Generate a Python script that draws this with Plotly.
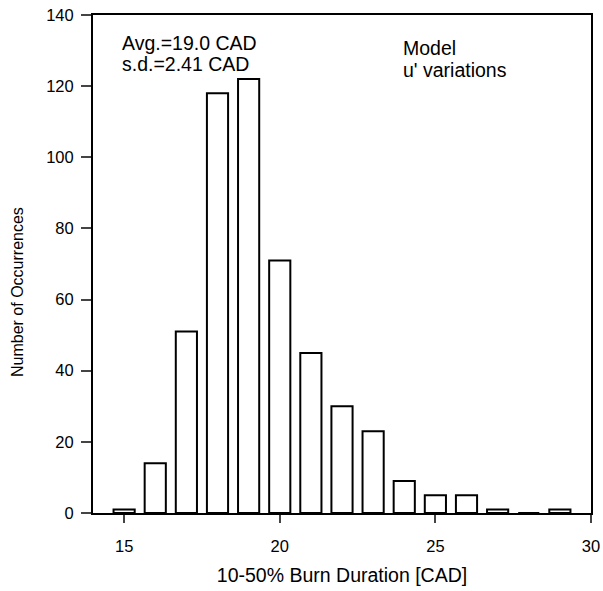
import plotly.graph_objects as go

durations = [15, 16, 17, 18, 19, 20, 21, 22, 23, 24, 25, 26, 27, 28, 29]
counts = [1, 14, 51, 118, 122, 71, 45, 30, 23, 9, 5, 5, 1, 0, 1]
x_ticks = [15, 20, 25, 30]
y_ticks = [0, 20, 40, 60, 80, 100, 120, 140]

font = "Liberation Sans, Arial, Helvetica, sans-serif"

fig = go.Figure(go.Bar(
    x=durations, y=counts, width=0.68,
    marker=dict(color="white", line=dict(color="black", width=2)),
))

fig.update_layout(
    width=603, height=591,
    margin=dict(l=93, r=12, t=15, b=78),
    plot_bgcolor="white", paper_bgcolor="white",
    showlegend=False,
    font=dict(family=font, size=16.5, color="black"),
    xaxis=dict(
        range=[14, 30], tickvals=x_ticks, ticks="outside", ticklen=8, tickwidth=2,
        ticklabelstandoff=9, automargin=False,
        showline=True, linecolor="black", linewidth=2, mirror=True,
        showgrid=False, zeroline=False,
        title=dict(text="10-50% Burn Duration [CAD]", font=dict(size=19.5), standoff=15),
    ),
    yaxis=dict(
        range=[0, 140], tickvals=y_ticks, ticks="outside", ticklen=10, tickwidth=2,
        ticklabelstandoff=4, automargin=False,
        showline=True, linecolor="black", linewidth=2, mirror=True,
        showgrid=False, zeroline=False,
    ),
    annotations=[
        dict(x=-0.1506, y=0.4438, xref="paper", yref="paper", xanchor="center", yanchor="middle",
             text="Number of Occurrences", textangle=-90, showarrow=False, font=dict(size=16)),
        dict(x=14.87, y=132.1, xref="x", yref="y", xanchor="left", yanchor="middle", align="left",
             text="Avg.=19.0 CAD", showarrow=False, font=dict(size=19.5)),
        dict(x=14.87, y=126.2, xref="x", yref="y", xanchor="left", yanchor="middle", align="left",
             text="s.d.=2.41 CAD", showarrow=False, font=dict(size=19.5)),
        dict(x=23.9, y=130.8, xref="x", yref="y", xanchor="left", yanchor="middle", align="left",
             text="Model", showarrow=False, font=dict(size=19.5)),
        dict(x=23.9, y=124.6, xref="x", yref="y", xanchor="left", yanchor="middle", align="left",
             text="u' variations", showarrow=False, font=dict(size=19.5)),
    ],
)

fig.write_html("out.html")
